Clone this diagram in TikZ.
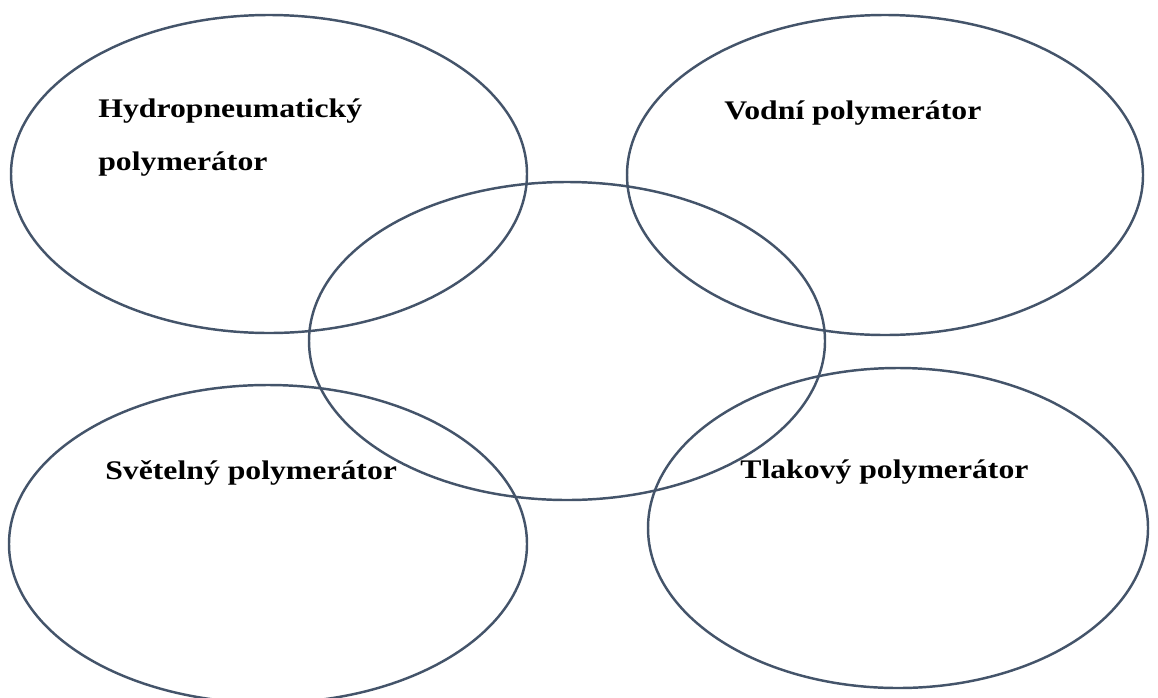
\documentclass[tikz,border=0pt]{standalone}
\usepackage{fontspec}
\setmainfont[FakeStretch=1.18]{Liberation Serif}
\definecolor{rim}{HTML}{44546A}
\begin{document}
\begin{tikzpicture}[x=0.02cm,y=-0.02cm,
  rimline/.style={draw=rim,line width=1.4pt},
  lbl/.style={anchor=base west,inner sep=0pt,align=left,
    font=\fontsize{15.3}{30}\selectfont\bfseries}]
 \useasboundingbox (0,0) rectangle (1158,697);
 \draw[rimline] (269,174) ellipse (258 and 159);
 \draw[rimline] (885,175) ellipse (258 and 160);
 \draw[rimline] (567,341) ellipse (258 and 159);
 \draw[rimline] (268,544) ellipse (259 and 159);
 \draw[rimline] (898,528) ellipse (250 and 160);
 \node[lbl] (hydro) at (98,170) {Hydropneumatický\\polymerátor};
 \node[lbl] (vodni) at (724,119) {Vodní polymerátor};
 \node[lbl] (svet) at (105,479) {Světelný polymerátor};
 \node[lbl] (tlak) at (740,478) {Tlakový polymerátor};
\end{tikzpicture}
\end{document}
